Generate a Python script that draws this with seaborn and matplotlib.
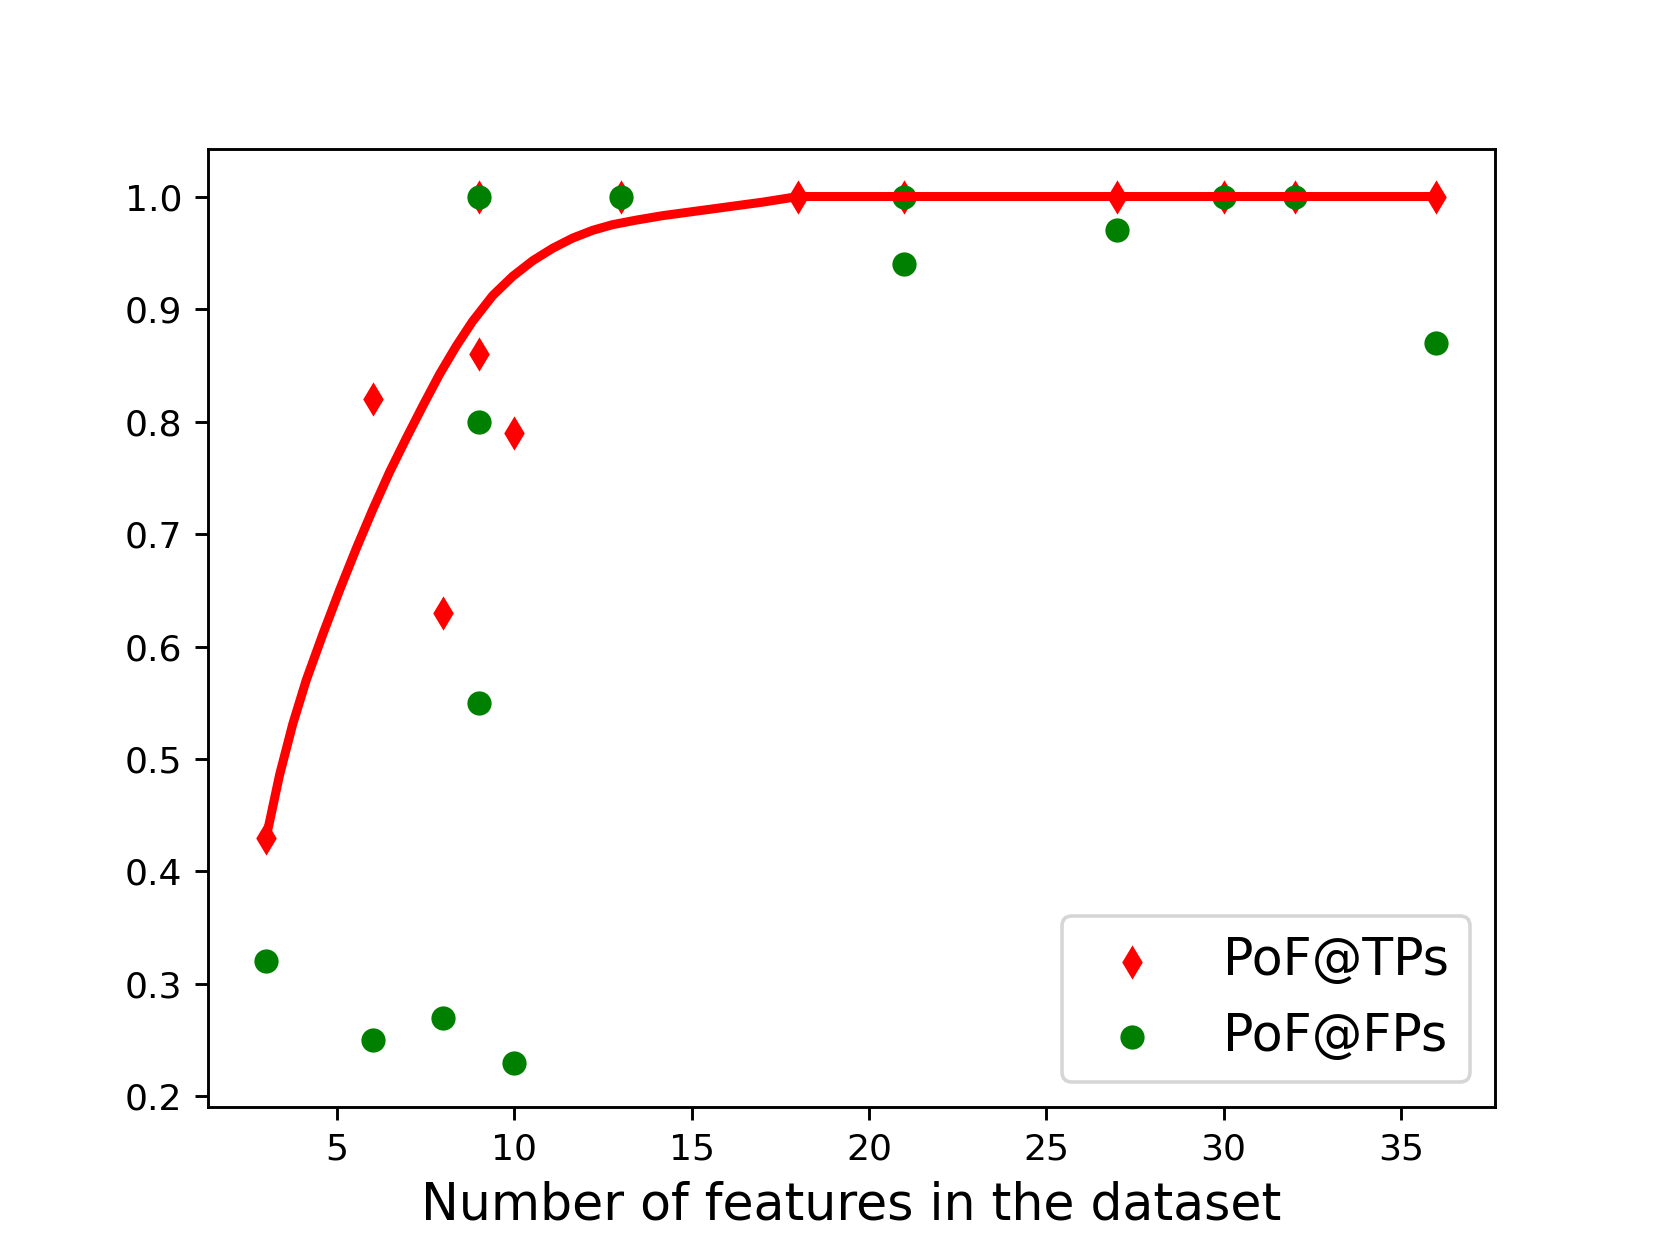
import matplotlib
matplotlib.use("Agg")
import matplotlib.pyplot as plt
import seaborn as sns

# PoF@TPs
tp_x = [3, 6, 8, 9, 9, 10, 13, 18, 21, 27, 30, 32, 36]
tp_y = [0.43, 0.82, 0.63, 0.86, 1.0, 0.79, 1.0, 1.0, 1.0, 1.0, 1.0, 1.0, 1.0]

# PoF@FPs
fp_x = [3, 6, 8, 9, 9, 9, 10, 13, 21, 21, 27, 30, 32, 36]
fp_y = [0.32, 0.25, 0.27, 0.55, 0.80, 1.0, 0.23, 1.0, 0.94, 1.0, 0.97, 1.0, 1.0, 0.87]

# red trend curve
curve_x = [3.0, 3.38, 3.75, 4.13, 4.6, 5.07, 5.54, 6.01, 6.48, 6.95, 7.42,
           7.89, 8.36, 8.82, 9.39, 9.95, 10.52, 11.08, 11.64, 12.21, 12.77,
           13.43, 14.18, 15.12, 16.06, 17.0, 17.6, 18.0, 21, 27, 30, 32, 36]
curve_y = [0.43, 0.486, 0.531, 0.57, 0.611, 0.65, 0.687, 0.722, 0.755,
           0.785, 0.814, 0.842, 0.867, 0.889, 0.912, 0.929, 0.943, 0.954,
           0.963, 0.97, 0.975, 0.979, 0.983, 0.987, 0.991, 0.995, 0.998,
           1.0, 1.0, 1.0, 1.0, 1.0, 1.0]

fig, ax = plt.subplots(figsize=(1661 / 260, 1244 / 260), dpi=260)

sns.scatterplot(x=tp_x, y=tp_y, marker='d', color='red', s=45,
                linewidth=0, label='PoF@TPs', ax=ax, zorder=1)
sns.scatterplot(x=fp_x, y=fp_y, marker='o', color='green', s=45,
                linewidth=0, label='PoF@FPs', ax=ax, zorder=1)
sns.lineplot(x=curve_x, y=curve_y, color='red', linewidth=2.5,
             ax=ax, zorder=3, sort=False)

ax.set_ylim(0.1905, 1.042)
ax.set_xlabel('Number of features in the dataset', fontsize=14)

handles, labels = ax.get_legend_handles_labels()
keep = [(h, l) for h, l in zip(handles, labels) if l.startswith('PoF')]
ax.legend([h for h, l in keep], [l for h, l in keep],
          loc='lower right', fontsize=14)

plt.savefig('out.png', dpi=260)
